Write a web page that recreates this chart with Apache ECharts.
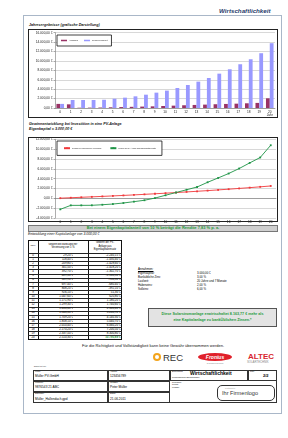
<!DOCTYPE html>
<html>
<head>
<meta charset="utf-8">
<script src="https://cdn.jsdelivr.net/npm/echarts@6/dist/echarts.min.js"></script>
<style>
  body { margin: 0; background: #fff; font-family: "Liberation Sans", Arial, sans-serif; }
  #page { position: relative; width: 288px; height: 438px; overflow: hidden; }
  .a { position: absolute; white-space: nowrap; line-height: 1; }
  .box { position: absolute; box-sizing: border-box; }
  #chart { position: absolute; left: 0; top: 0; width: 288px; height: 438px; z-index: 2; }
  .bi { font-weight: bold; font-style: italic; color: #111; }
  .cell { position: absolute; overflow: hidden; white-space: nowrap; line-height: 1; }
</style>
</head>
<body>
<div id="page">
  <!-- page frame -->
  <div class="box" style="left:23px;top:15px;width:259px;height:399px;border:1.5px solid #a9b7c8;"></div>
  <div class="a bi" style="left:219px;top:8px;font-size:6.2px;color:#1f3b6b;">Wirtschaftlichkeit</div>

  <div class="a bi" style="left:29px;top:24px;font-size:3.6px;">Jahresergebnisse (grafische Darstellung)</div>
  <div class="box" style="left:28px;top:29px;width:250px;height:89px;border:1px solid #222;"></div>

  <div class="a bi" style="left:29px;top:123px;font-size:3.7px;">Gewinnentwicklung bei Investition in eine PV-Anlage</div>
  <div class="a bi" style="left:29px;top:128px;font-size:3.7px;">Eigenkapital = 3.000,00 €</div>
  <div class="box" style="left:28px;top:137px;width:250px;height:85px;border:1px solid #222;"></div>

  <div class="box" style="left:28px;top:225px;width:250px;height:6.5px;background:#cfcfcf;border:0.8px solid #777;"></div>
  <div class="a" style="left:28px;width:250px;top:226.2px;font-size:4px;font-weight:bold;color:#1f9a3c;text-align:center;">Bei einem Eigenkapitalanteil von 10 % beträgt die Rendite 7,83 % p. a.</div>

  <div class="a" style="left:28px;top:233px;font-size:3.4px;font-style:italic;color:#111;">Entwicklung einer Kapitalanlage von 3.000,00 €</div>
  <div id="tbl"></div>

  <div id="ann"></div>

  <div class="box" style="left:148px;top:308px;width:129px;height:19px;background:#e3e3e3;border:0.8px solid #555;"></div>
  <div class="a" style="left:148px;width:129px;top:311px;font-size:3.7px;font-weight:bold;color:#1f9a3c;text-align:center;line-height:6px;">Diese Solarstromanlage erwirtschaftet 8.163,77 € mehr als<br>eine Kapitalanlage zu bankÜblichen Zinsen.*</div>

  <div class="a" style="left:28px;width:250px;top:344px;font-size:4px;color:#111;text-align:center;">Für die Richtigkeit und Vollständigkeit kann keine Gewähr übernommen werden.</div>

  <!-- logos -->
  <div class="box" style="left:153px;top:353px;width:8px;height:8px;border-radius:50%;background:#f3a41c;"></div>
  <div class="box" style="left:155px;top:355px;width:4px;height:4px;border-radius:50%;background:#fff;"></div>
  <div class="a" style="left:163px;top:352.5px;font-size:9.5px;color:#333;">REC</div>
  <div class="box" style="left:198px;top:353px;width:34px;height:8px;border-radius:50%;background:#e0202a;"></div>
  <div class="a" style="left:198px;width:34px;top:354.5px;font-size:5px;font-weight:bold;font-style:italic;color:#fff;text-align:center;">Fronius</div>
  <div class="a" style="left:198px;width:34px;top:362.5px;font-size:1.6px;color:#777;text-align:center;">SHIFTING THE LIMITS</div>
  <div class="a" style="left:248px;top:352.5px;font-size:8px;font-weight:bold;color:#d8262e;">ALTEC</div>
  <div class="a" style="left:247px;top:361px;font-size:2.8px;color:#888;">SOLARTECHNIK</div>

  <div class="a" style="left:34px;top:365.5px;font-size:1.8px;color:#333;">Erstellt mit von:</div>
  <div id="foot"></div>

  <div id="chart"></div>
</div>
<script>
// --- data ---
var years = ['0','1','2','3','4','5','6','7','8','9','10','11','12','13','14','15','16','17','18','19','20'];
var barRed = [870, 780, 60, 80, 100, 150, 200, 250, 300, 350, 420, 500, 580, 650, 720, 800, 860, 920, 1000, 1080, 2060];
var barBlue = [870, 1700, 1700, 1700, 1750, 1980, 2200, 2480, 2830, 3260, 3690, 4250, 4890, 5600, 6380, 7300, 8230, 9300, 10360, 11640, 13770];
var bankGain = [29.2, 118.4, 209.8, 301.5, 392.7, 489.3, 589.9, 697.4, 808.2, 926.1, 1047.6, 1171.9, 1299.3, 1430.6, 1568.3, 1709.2, 1858.1, 2010.4, 2170.2, 2337.5, 2510.3];
var pvGain = [-2240.15, -1430.4, -1428.6, -1418.2, -1302.7, -1160.5, -950.3, -680.4, -392.1, 51.3, 620.8, 1180.2, 1740.6, 2300.4, 3260.9, 4140.3, 5040.7, 6060.2, 7200.5, 8300.8, 10790.89];
var barNames = ['Ausgaben', 'Gewinn kumuliert'];
var lineNames = ['Gewinn bei bankÜblicher Verzinsung', 'Gewinn der PV-Anlage aus Eigenkapitaleinsatz'];

function fmt(v) {
  var s = Math.abs(v).toFixed(2).split('.');
  var i = s[0].replace(/\B(?=(\d{3})+(?!\d))/g, '.');
  return (v < 0 ? '-' : '') + i + ',' + s[1] + ' €';
}

// --- table (Entwicklung einer Kapitalanlage) ---
var t = '';
var tx = 28, ty = 239.5, cw = [10, 50, 34], hh = 13.5, rh = 4.12;
var tw = cw[0] + cw[1] + cw[2], th = hh + rh * years.length;
t += '<div class="box" style="left:' + tx + 'px;top:' + ty + 'px;width:' + tw + 'px;height:' + th + 'px;border:0.8px solid #111;"></div>';
t += '<div class="box" style="left:' + (tx + cw[0]) + 'px;top:' + ty + 'px;width:0;height:' + th + 'px;border-left:0.8px solid #111;"></div>';
t += '<div class="box" style="left:' + (tx + cw[0] + cw[1]) + 'px;top:' + ty + 'px;width:0;height:' + th + 'px;border-left:0.8px solid #111;"></div>';
t += '<div class="cell" style="left:' + tx + 'px;width:' + cw[0] + 'px;top:' + (ty + 5.3) + 'px;font-size:2.6px;text-align:center;">Jahr</div>';
t += '<div class="cell" style="left:' + (tx + cw[0]) + 'px;width:' + cw[1] + 'px;top:' + (ty + 3.6) + 'px;font-size:2.6px;line-height:3.2px;text-align:center;">Gewinn bei bankÜblicher<br>Verzinsung von 5 %</div>';
t += '<div class="cell" style="left:' + (tx + cw[0] + cw[1]) + 'px;width:' + cw[2] + 'px;top:' + (ty + 1.8) + 'px;font-size:2.6px;line-height:3.2px;text-align:center;">Gewinn der PV-<br>Anlage aus<br>Eigenkapitaleinsatz</div>';
for (var r = 0; r < years.length; r++) {
  var y = ty + hh + r * rh;
  t += '<div class="box" style="left:' + tx + 'px;top:' + y + 'px;width:' + tw + 'px;height:0;border-top:0.6px solid #222;"></div>';
  t += '<div class="cell" style="left:' + tx + 'px;width:' + cw[0] + 'px;top:' + (y + 0.7) + 'px;font-size:2.9px;text-align:center;">' + years[r] + '</div>';
  t += '<div class="cell" style="left:' + (tx + cw[0]) + 'px;width:' + (cw[1] - 15) + 'px;top:' + (y + 0.7) + 'px;font-size:2.9px;text-align:right;">' + fmt(bankGain[r]) + '</div>';
  var last = r === years.length - 1;
  t += '<div class="cell" style="left:' + (tx + cw[0] + cw[1]) + 'px;width:' + (cw[2] - 1.5) + 'px;top:' + (y + 0.7) + 'px;font-size:2.9px;text-align:right;' + (last ? 'color:#1f9a3c;font-weight:bold;' : '') + '">' + fmt(pvGain[r]) + '</div>';
}
document.getElementById('tbl').innerHTML = t;

// --- Annahmen ---
var annL = ['Eigenkapital:', 'Bankübliche Zins:', 'Laufzeit:', 'Habenzins:', 'Sollzins:'];
var annV = ['3.000,00 €', '3,00 %', '20 Jahre und 7 Monate', '2,00 %', '6,00 %'];
var a = '<div class="a" style="left:138px;top:268px;font-size:3px;text-decoration:underline;">Annahmen:</div>';
for (var k = 0; k < annL.length; k++) {
  a += '<div class="a" style="left:138px;top:' + (272 + k * 4.1) + 'px;font-size:2.9px;">' + annL[k] + '</div>';
  a += '<div class="a" style="left:197px;top:' + (272 + k * 4.1) + 'px;font-size:2.9px;">' + annV[k] + '</div>';
}
document.getElementById('ann').innerHTML = a;

// --- footer block ---
var f = '';
function fbox(x, y, w, h) { f += '<div class="box" style="left:' + x + 'px;top:' + y + 'px;width:' + w + 'px;height:' + h + 'px;border:0.7px solid #333;"></div>'; }
function ftxt(x, y, s, txt, extra) { f += '<div class="a" style="left:' + x + 'px;top:' + y + 'px;font-size:' + s + 'px;' + (extra || '') + '">' + txt + '</div>'; }
fbox(33, 369.5, 244, 33.5);
fbox(33, 369.5, 75, 11); fbox(108, 369.5, 62, 11); fbox(170, 369.5, 78, 11); fbox(248, 369.5, 29, 11);
fbox(33, 380.5, 75, 11); fbox(108, 380.5, 62, 11); fbox(33, 391.5, 75, 11.5); fbox(108, 391.5, 62, 11.5);
ftxt(35, 370.5, 1.8, 'Kunde:'); ftxt(35, 375, 3.2, 'Müller PV-GmbH');
ftxt(110, 370.5, 1.8, 'Angebot:'); ftxt(110, 375, 3.2, '123456789');
ftxt(172, 370.5, 1.8, 'Bezeichnung:'); ftxt(190, 371, 5, 'Wirtschaftlichkeit', 'font-weight:bold;');
ftxt(172, 377.3, 1.6, 'Gewinnentwicklung (Eigenkapitalanteil)');
ftxt(250, 370.5, 1.8, 'Seite:'); ftxt(263, 373.5, 4, '2/2', 'font-weight:bold;');
ftxt(35, 381.5, 1.8, 'Kundennr.:'); ftxt(35, 386, 3.2, '9876543 21 ABC');
ftxt(110, 381.5, 1.8, 'Verfasser:'); ftxt(110, 386, 3.2, 'Peter Müller');
ftxt(35, 392.5, 1.8, 'Dateiname:'); ftxt(35, 397.5, 3.2, 'Müller_Hallendach.gpd');
ftxt(110, 392.5, 1.8, 'Datum:'); ftxt(110, 397.5, 3.2, '21.06.2011');
ftxt(172, 381.5, 1.8, 'Gezeichnet:'); ftxt(172, 384, 1.8, 'Geprüft:'); ftxt(172, 386.5, 1.8, 'Freigabe:');
f += '<div class="box" style="left:217px;top:385px;width:58px;height:16px;border:1px solid #333;border-radius:5px;background:#fff;"></div>';
ftxt(225, 387.3, 2.2, 'Platzhalter', 'color:#999;');
ftxt(222, 391, 5.6, 'Ihr Firmenlogo', 'color:#333;');
document.getElementById('foot').innerHTML = f;

// --- charts ---
var myChart = echarts.init(document.getElementById('chart'), null, { renderer: 'canvas' });
var axisTxt = { fontSize: 3.2, color: '#222', fontFamily: 'Liberation Sans' };

var option = {
  backgroundColor: 'transparent',
  animation: false,
  textStyle: { fontFamily: 'Liberation Sans' },
  grid: [
    { left: 55, top: 32.7, width: 220, height: 75.3 },
    { left: 55, top: 139.3, width: 221, height: 78.7 }
  ],
  legend: [
    {
      data: barNames, left: 57, top: 35, orient: 'horizontal',
      backgroundColor: '#fff', borderColor: '#111', borderWidth: 0.8,
      padding: [4.5, 4], itemWidth: 6, itemHeight: 1.5, itemGap: 6, icon: 'rect',
      textStyle: { fontSize: 2, color: '#222', padding: [0, 0, 0, -3] }
    },
    {
      data: lineNames, left: 57, top: 141, orient: 'horizontal',
      backgroundColor: '#fff', borderColor: '#111', borderWidth: 0.8,
      padding: [6.2, 6], itemWidth: 6, itemHeight: 2, itemGap: 8,
      textStyle: { fontSize: 1.8, color: '#222', padding: [0, 0, 0, -3] }
    }
  ],
  xAxis: [
    {
      type: 'category', gridIndex: 0, data: years, boundaryGap: true,
      axisLine: { lineStyle: { color: '#777', width: 0.6 } },
      axisTick: { show: false },
      axisLabel: Object.assign({ margin: 2, interval: 0, lineHeight: 3.6,
        formatter: function (v) { return v === '20' ? '20\nJahr' : v; } }, axisTxt)
    },
    {
      type: 'category', gridIndex: 1, data: years, boundaryGap: true,
      axisLine: { onZero: true, lineStyle: { color: '#777', width: 0.6 } },
      axisTick: { show: false },
      axisLabel: Object.assign({ margin: 3, interval: 0 }, axisTxt)
    }
  ],
  yAxis: [
    {
      type: 'value', gridIndex: 0, min: 0, max: 16000, interval: 2000,
      axisLine: { show: true, lineStyle: { color: '#777', width: 0.6 } },
      axisTick: { show: true, length: 1.5, lineStyle: { color: '#555', width: 0.5 } },
      splitLine: { lineStyle: { color: '#bdbdbd', width: 0.6 } },
      axisLabel: Object.assign({ margin: 2.5, formatter: fmt }, axisTxt)
    },
    {
      type: 'value', gridIndex: 1, min: -4000, max: 12000, interval: 2000,
      axisLine: { show: true, lineStyle: { color: '#777', width: 0.6 } },
      axisTick: { show: true, length: 1.5, lineStyle: { color: '#555', width: 0.5 } },
      splitLine: { lineStyle: { color: '#bdbdbd', width: 0.6 } },
      axisLabel: Object.assign({ margin: 2.5, formatter: fmt }, axisTxt)
    }
  ],
  series: [
    { // rote Balken
      name: barNames[0], type: 'bar', xAxisIndex: 0, yAxisIndex: 0,
      barWidth: 3.8, barGap: '0%', itemStyle: { color: '#993366' }, data: barRed
    },
    { // blaue Balken
      name: barNames[1], type: 'bar', xAxisIndex: 0, yAxisIndex: 0,
      barWidth: 3.8, barGap: '0%', itemStyle: { color: '#9999ff' }, data: barBlue
    },
    {
      name: lineNames[0], type: 'line', xAxisIndex: 1, yAxisIndex: 1,
      symbol: 'rect', symbolSize: 1.8, showAllSymbol: true,
      lineStyle: { color: '#f0393b', width: 0.9 }, itemStyle: { color: '#f0393b' },
      data: bankGain
    },
    {
      name: lineNames[1], type: 'line', xAxisIndex: 1, yAxisIndex: 1,
      symbol: 'rect', symbolSize: 1.8, showAllSymbol: true,
      lineStyle: { color: '#1e9446', width: 0.9 }, itemStyle: { color: '#1e9446' },
      data: pvGain
    }
  ]
};
myChart.setOption(option);
</script>
</body>
</html>
